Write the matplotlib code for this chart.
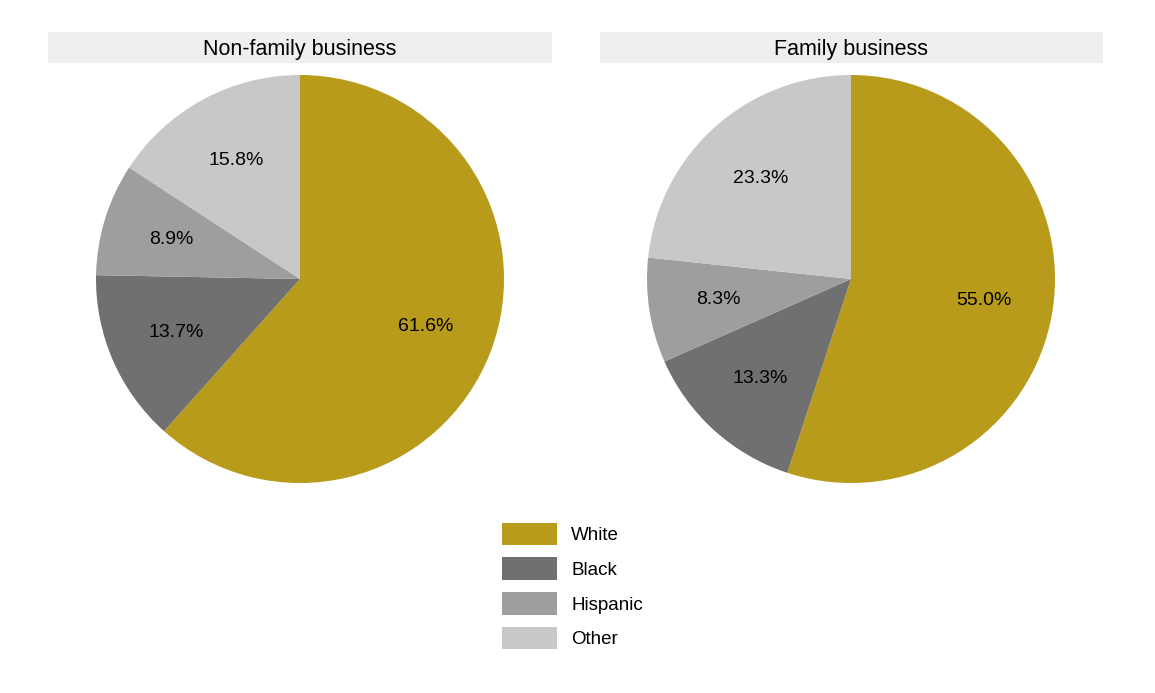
import matplotlib.pyplot as plt
from matplotlib.patches import Rectangle, Patch

# Data
groups = ['White', 'Black', 'Hispanic', 'Other']
non_family = [61.6, 13.7, 8.9, 15.8]
family = [55.0, 13.3, 8.3, 23.3]
panel_titles = ['Non-family business', 'Family business']
colors = ['#B89B1A', '#707070', '#9E9E9E', '#C8C8C8']

plt.rcParams['font.family'] = ['Liberation Sans', 'DejaVu Sans']

fig = plt.figure(figsize=(11.55, 6.93), dpi=100)
W, H = 1155, 693

# title strips
for x0, x1, title in [(48, 552, panel_titles[0]), (600, 1103, panel_titles[1])]:
    fig.patches.append(Rectangle((x0 / W, 1 - 63 / H), (x1 - x0) / W, 31 / H,
                                 transform=fig.transFigure, facecolor='#EFEFEF',
                                 edgecolor='none'))
    fig.text((x0 + x1) / 2 / W, 1 - 49 / H, title, ha='center', va='center',
             fontsize=15.5)

# pies
for cx, vals in [(300, non_family), (851, family)]:
    r = 204
    ax = fig.add_axes([(cx - r) / W, 1 - (279 + r) / H, 2 * r / W, 2 * r / H])
    wedges, texts, autotexts = ax.pie(vals, colors=colors, startangle=90,
                                      counterclock=False, autopct='%.1f%%',
                                      pctdistance=0.66,
                                      textprops={'fontsize': 14}, radius=1,
                                      wedgeprops={'linewidth': 0})
    # show the reported shares, not renormalised ones
    for t, v in zip(autotexts, vals):
        t.set_text(f'{v:.1f}%')
    ax.set_xlim(-1, 1)
    ax.set_ylim(-1, 1)
    ax.set_aspect('equal')
    ax.axis('off')

handles = [Patch(facecolor=c, edgecolor='none') for c in colors]
fig.legend(handles, groups, loc='center left',
           bbox_to_anchor=(485 / W, 1 - 586 / H), frameon=False, fontsize=13.5,
           handlelength=2.95, handleheight=1.5, labelspacing=0.63,
           handletextpad=0.75)

fig.savefig('out.png', dpi=100)
